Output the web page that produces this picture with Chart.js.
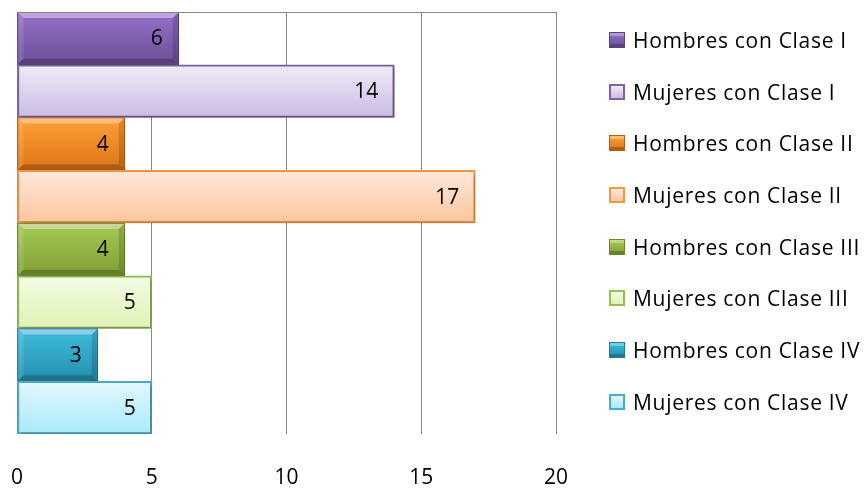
<!DOCTYPE html>
<html>
<head>
<meta charset="utf-8">
<script src="https://cdn.jsdelivr.net/npm/chart.js@4/dist/chart.umd.min.js"></script>
<style>
  html, body { margin: 0; padding: 0; background: #fff; }
  #wrap { position: relative; width: 867px; height: 490px; }
  #c { position: absolute; left: 0; top: 0; }
  #legend { position: absolute; left: 609px; top: 0; font-family: "Open Sans", Lato, sans-serif; font-size: 21px; letter-spacing: 0.7px; color: #000; }
  .item { position: absolute; left: 0; white-space: nowrap; display: flex; align-items: center; height: 26px; }
  .mk { width: 16px; height: 16px; box-sizing: border-box; margin-right: 8px; }
</style>
</head>
<body>
<div id="wrap">
  <canvas id="c" width="867" height="490"></canvas>
  <div id="legend"></div>
</div>
<script>
// ---- data ----
const categories = [
  'Hombres con Clase I', 'Mujeres con Clase I',
  'Hombres con Clase II', 'Mujeres con Clase II',
  'Hombres con Clase III', 'Mujeres con Clase III',
  'Hombres con Clase IV', 'Mujeres con Clase IV'
];
const values = [6, 14, 4, 17, 4, 5, 3, 5];
const xTicks = [0, 5, 10, 15, 20];

// ---- styles ----
// [top colour, bottom colour, border colour, isSolid(hombres)]
const styles = [
  ['#9471c8', '#6c4f99', '#5b437f', true],
  ['#efeaf7', '#cbbce4', '#8064a2', false],
  ['#ffa035', '#dc7418', '#b45e12', true],
  ['#fee9dc', '#fbc59d', '#f79646', false],
  ['#a6ca55', '#7f9f33', '#6a862b', true],
  ['#f2fce3', '#ddf3b5', '#9bbb59', false],
  ['#3fbcdc', '#2490ad', '#1f7d96', true],
  ['#e4f8fe', '#a8e9fb', '#4bacc6', false]
];
const FONT = '"Open Sans", Lato, sans-serif';

function bandOf(chart, i) {
  const a = chart.chartArea;
  const band = (a.bottom - a.top) / categories.length;
  const c = chart.scales.y.getPixelForValue(i);
  return [c - band / 2, c + band / 2];
}

function bgColor(ctx) {
  const chart = ctx.chart;
  const s = styles[ctx.dataIndex];
  if (!chart.chartArea || !chart.scales.y) return s[1];
  const [t, b] = bandOf(chart, ctx.dataIndex);
  const g = chart.ctx.createLinearGradient(0, t, 0, b);
  g.addColorStop(0, s[0]);
  g.addColorStop(1, s[1]);
  return g;
}

const fx = {
  id: 'fx',
  beforeDatasetDraw(chart) {
    const c = chart.ctx;
    c.save();
    c.shadowColor = 'rgba(0,0,0,0.28)';
    c.shadowBlur = 4;
    c.shadowOffsetX = 2;
    c.shadowOffsetY = 2;
  },
  afterDatasetDraw(chart) {
    chart.ctx.restore();
  },
  afterDatasetsDraw(chart) {
    const c = chart.ctx;
    const meta = chart.getDatasetMeta(0);
    meta.data.forEach((el, i) => {
      const p = el.getProps(['x', 'y', 'base', 'height'], true);
      const l = p.base, r = p.x, t = p.y - p.height / 2, b = p.y + p.height / 2;
      if (styles[i][3]) {
        const bv = 6;
        c.save();
        c.fillStyle = 'rgba(255,235,255,0.42)';
        c.beginPath(); c.moveTo(l + 1, t + 1); c.lineTo(r - 1, t + 1); c.lineTo(r - bv, t + bv); c.lineTo(l + bv, t + bv); c.closePath(); c.fill();
        c.fillStyle = 'rgba(255,255,255,0.12)';
        c.beginPath(); c.moveTo(l + 1, t + 1); c.lineTo(l + bv, t + bv); c.lineTo(l + bv, b - bv); c.lineTo(l + 1, b - 1); c.closePath(); c.fill();
        c.fillStyle = 'rgba(0,0,0,0.22)';
        c.beginPath(); c.moveTo(l + 1, b - 1); c.lineTo(r - 1, b - 1); c.lineTo(r - bv, b - bv); c.lineTo(l + bv, b - bv); c.closePath(); c.fill();
        c.fillStyle = 'rgba(0,0,0,0.15)';
        c.beginPath(); c.moveTo(r - 1, t + 1); c.lineTo(r - bv, t + bv); c.lineTo(r - bv, b - bv); c.lineTo(r - 1, b - 1); c.closePath(); c.fill();
        c.restore();
      }
      c.save();
      c.fillStyle = '#000';
      c.font = '21px ' + FONT;
      c.textAlign = 'right';
      c.textBaseline = 'middle';
      c.fillText(String(values[i]), r - 16, p.y + 1);
      c.restore();
    });
    const a = chart.chartArea;
    c.save();
    c.strokeStyle = '#868686';
    c.lineWidth = 1;
    c.beginPath(); c.moveTo(a.left, a.top + 0.5); c.lineTo(a.right, a.top + 0.5); c.stroke();
    c.restore();
  }
};

new Chart(document.getElementById('c'), {
  type: 'bar',
  data: {
    labels: categories,
    datasets: [{
      data: values,
      backgroundColor: bgColor,
      borderColor: ctx => styles[ctx.dataIndex][2],
      borderWidth: ctx => styles[ctx.dataIndex][3] ? 1 : 2,
      borderSkipped: false,
      categoryPercentage: 1,
      barPercentage: 1
    }]
  },
  options: {
    indexAxis: 'y',
    responsive: false,
    animation: false,
    layout: { padding: { left: 17, right: 311, top: 12, bottom: 2 } },
    plugins: { legend: { display: false }, tooltip: { enabled: false } },
    scales: {
      x: {
        min: 0, max: 20,
        afterBuildTicks: axis => { axis.ticks = xTicks.map(v => ({ value: v })); },
        afterFit: axis => { axis.height = 54; },
        grid: { color: '#868686', lineWidth: 1, drawTicks: true, tickLength: 31, tickColor: 'rgba(0,0,0,0)' },
        border: { display: false },
        ticks: { color: '#000', padding: 0, font: { family: FONT, size: 21 } }
      },
      y: { display: false }
    }
  },
  plugins: [fx]
});

// ---- HTML legend ----
const legendTops = [40, 91.7, 143.3, 195, 246.7, 298, 350, 401.7];
const lg = document.getElementById('legend');
categories.forEach((name, i) => {
  const s = styles[i];
  const it = document.createElement('div');
  it.className = 'item';
  it.style.top = (legendTops[i] - 13) + 'px';
  const mk = document.createElement('span');
  mk.className = 'mk';
  mk.style.background = `linear-gradient(${s[0]}, ${s[1]})`;
  if (s[3]) {
    mk.style.border = `1px solid ${s[2]}`;
    mk.style.boxShadow = 'inset 0 3px 0 rgba(255,255,255,0.3), inset 0 -3px 0 rgba(0,0,0,0.2)';
  } else {
    mk.style.border = `2px solid ${s[2]}`;
  }
  const tx = document.createElement('span');
  tx.textContent = name;
  it.appendChild(mk);
  it.appendChild(tx);
  lg.appendChild(it);
});
</script>
</body>
</html>
